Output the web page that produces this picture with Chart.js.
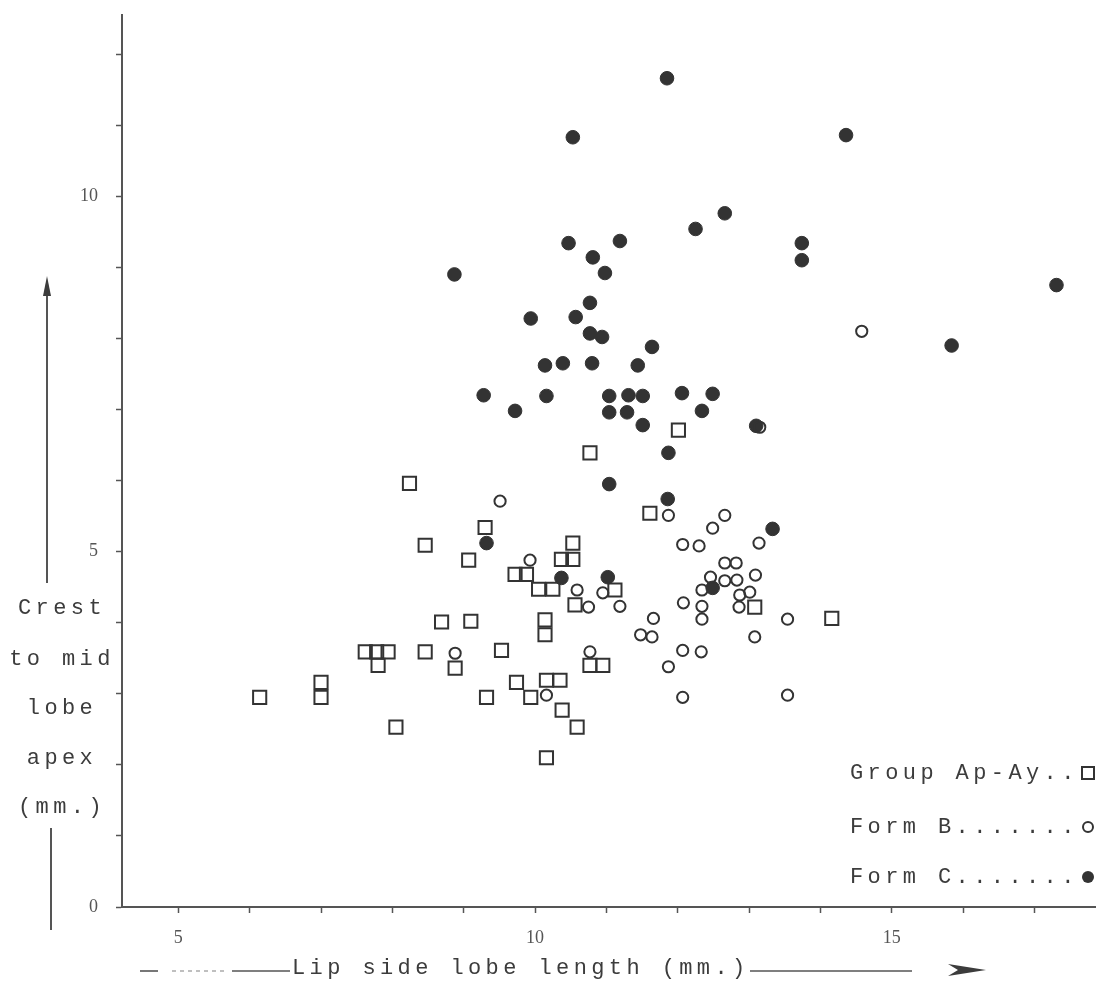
<!DOCTYPE html>
<html><head><meta charset="utf-8">
<script src="https://cdn.jsdelivr.net/npm/chart.js@4/dist/chart.umd.min.js"></script>
<style>html,body{margin:0;padding:0;background:#fff;}#wrap{width:1100px;height:998px;}</style>
</head><body><div id="wrap"><canvas id="c" width="1100" height="998"></canvas></div>
<script>
// Group Ap-Ay (open squares)
const groupX = [12.01,10.77,8.24,9.30,8.46,9.07,11.61,10.53,10.37,10.53,9.72,9.88,10.05,10.25,10.56,11.12,13.08,8.69,9.10,10.14,10.14,14.16,7.62,7.78,7.94,7.80,8.46,8.88,9.53,10.77,10.95,6.14,7.00,7.00,8.05,9.32,9.74,9.94,10.16,10.35,10.38,10.59,10.16];
const groupY = [6.71,6.39,5.96,5.34,5.09,4.88,5.54,5.12,4.89,4.89,4.68,4.68,4.47,4.47,4.25,4.46,4.22,4.01,4.02,4.04,3.83,4.06,3.59,3.59,3.59,3.40,3.59,3.36,3.61,3.40,3.40,2.95,3.16,2.95,2.53,2.95,3.16,2.95,3.19,3.19,2.77,2.53,2.10];
// Form B (open circles)
const formBX = [14.58,13.15,9.51,11.87,12.66,12.49,9.93,12.07,12.30,13.14,12.66,12.82,12.46,12.66,12.83,13.09,10.59,10.95,12.34,12.87,13.01,10.75,11.19,12.08,12.34,12.86,11.66,12.34,13.54,11.48,11.64,13.08,10.77,8.88,12.07,12.33,11.87,12.07,13.54,10.16];
const formBY = [8.10,6.75,5.71,5.51,5.51,5.33,4.88,5.10,5.08,5.12,4.84,4.84,4.64,4.59,4.60,4.67,4.46,4.42,4.46,4.39,4.43,4.22,4.23,4.28,4.23,4.22,4.06,4.05,4.05,3.83,3.80,3.80,3.59,3.57,3.61,3.59,3.38,2.95,2.98,2.98];
// Form C (filled circles)
const formCX = [11.85,10.53,14.36,12.66,12.25,10.47,11.19,10.81,10.98,13.74,13.74,17.31,8.87,10.77,9.94,10.57,10.77,10.94,11.64,15.84,10.14,10.39,10.80,11.44,9.28,10.16,9.72,11.04,11.31,11.51,12.06,12.49,11.04,11.29,12.34,11.51,13.10,11.87,11.04,11.86,13.33,9.32,10.37,11.02,12.49];
const formCY = [11.66,10.83,10.86,9.76,9.54,9.34,9.37,9.14,8.92,9.34,9.10,8.75,8.90,8.50,8.28,8.30,8.07,8.02,7.88,7.90,7.62,7.65,7.65,7.62,7.20,7.19,6.98,7.19,7.20,7.19,7.23,7.22,6.96,6.96,6.98,6.78,6.77,6.39,5.95,5.74,5.32,5.12,4.63,4.64,4.49];

const xTickLabels = [5, 10, 15];
const yTickLabels = [0, 5, 10];
const legendLabels = ['Group Ap-Ay..', 'Form B.......', 'Form C.......'];
const yTitleLines = ['Crest', 'to mid', 'lobe', 'apex', '(mm.)'];
const xTitle = 'Lip side lobe length (mm.)';

const pts = (xs, ys) => xs.map((x, i) => ({x: x, y: ys[i]}));
const INK = '#333333';
const TYPE = "'Liberation Mono', 'DejaVu Sans Mono', monospace";

const decor = {
  id: 'decor',
  afterDraw(chart) {
    const ctx = chart.ctx;
    ctx.save();
    ctx.fillStyle = '#3c3c3c';
    ctx.strokeStyle = '#555';
    ctx.font = '22px ' + TYPE;
    try { ctx.letterSpacing = '4.4px'; } catch (e) {}
    ctx.textBaseline = 'middle';
    // y-axis title
    ctx.textAlign = 'center';
    const ly = [608, 659, 708, 758, 807];
    yTitleLines.forEach((t, i) => ctx.fillText(t, 62, ly[i]));
    // y arrow
    ctx.lineWidth = 2;
    ctx.beginPath(); ctx.moveTo(47, 583); ctx.lineTo(47, 290); ctx.stroke();
    ctx.beginPath(); ctx.moveTo(47, 276); ctx.lineTo(43, 296); ctx.lineTo(51, 296); ctx.closePath(); ctx.fill();
    ctx.beginPath(); ctx.moveTo(51, 828); ctx.lineTo(51, 930); ctx.stroke();
    // x title
    ctx.textAlign = 'left';
    ctx.fillText(xTitle, 292, 968);
    ctx.lineWidth = 1.6;
    [[140,158],[232,290]].forEach(s => { ctx.beginPath(); ctx.moveTo(s[0], 971); ctx.lineTo(s[1], 971); ctx.stroke(); });
    ctx.save(); ctx.setLineDash([4,4]); ctx.strokeStyle = '#aaa';
    ctx.beginPath(); ctx.moveTo(172, 971); ctx.lineTo(225, 971); ctx.stroke(); ctx.restore();
    ctx.beginPath(); ctx.moveTo(750, 971); ctx.lineTo(912, 971); ctx.stroke();
    ctx.beginPath(); ctx.moveTo(948, 964); ctx.lineTo(986, 970); ctx.lineTo(948, 976); ctx.lineTo(958, 970); ctx.closePath(); ctx.fill();
    // legend
    const gy = [773, 827, 877];
    legendLabels.forEach((t, i) => ctx.fillText(t, 850, gy[i]));
    ctx.strokeStyle = INK; ctx.lineWidth = 2;
    ctx.strokeRect(1082, 767, 12, 12);
    ctx.beginPath(); ctx.arc(1088, 827, 5, 0, Math.PI * 2); ctx.stroke();
    ctx.fillStyle = INK;
    ctx.beginPath(); ctx.arc(1088, 877, 6, 0, Math.PI * 2); ctx.fill();
    ctx.restore();
  }
};

const tickFont = {family: "'Liberation Serif', serif", size: 18};

new Chart(document.getElementById('c'), {
  type: 'scatter',
  data: {
    datasets: [
      {label: 'Group Ap-Ay', data: pts(groupX, groupY), pointStyle: 'rect', pointRadius: 9.3, borderWidth: 2, borderColor: INK, backgroundColor: 'rgba(255,255,255,0)', clip: false},
      {label: 'Form B', data: pts(formBX, formBY), pointStyle: 'circle', pointRadius: 5.6, borderWidth: 2, borderColor: INK, backgroundColor: 'rgba(255,255,255,0)', clip: false},
      {label: 'Form C', data: pts(formCX, formCY), pointStyle: 'circle', pointRadius: 6.8, borderWidth: 1, borderColor: INK, backgroundColor: INK, clip: false}
    ]
  },
  options: {
    responsive: false,
    animation: false,
    events: [],
    layout: {autoPadding: false, padding: {top: 15, right: 5, left: 0, bottom: 0}},
    plugins: {legend: {display: false}, tooltip: {enabled: false}},
    scales: {
      x: {
        type: 'linear', min: 4.21, max: 17.85,
        grid: {drawOnChartArea: false, drawTicks: true, tickLength: 6, tickColor: '#555', tickWidth: 1.5},
        border: {display: true, color: '#555', width: 2},
        ticks: {stepSize: 1, includeBounds: false, autoSkip: false, maxRotation: 0, padding: 14, color: '#555', font: tickFont,
          callback: v => xTickLabels.includes(v) ? String(v) : ''},
        afterFit(s) { s.height = 91; s.paddingRight = 0; s.paddingLeft = 0; }
      },
      y: {
        type: 'linear', min: 0, max: 12.55,
        grid: {drawOnChartArea: false, drawTicks: true, tickLength: 6, tickColor: '#555', tickWidth: 1.5},
        border: {display: true, color: '#555', width: 2},
        ticks: {stepSize: 1, includeBounds: false, autoSkip: false, padding: 18, color: '#555', font: tickFont,
          callback: v => yTickLabels.includes(v) ? String(v) : ''},
        afterFit(s) { s.width = 122; s.paddingTop = 0; s.paddingBottom = 0; }
      }
    }
  },
  plugins: [decor]
});
</script>
</body></html>
